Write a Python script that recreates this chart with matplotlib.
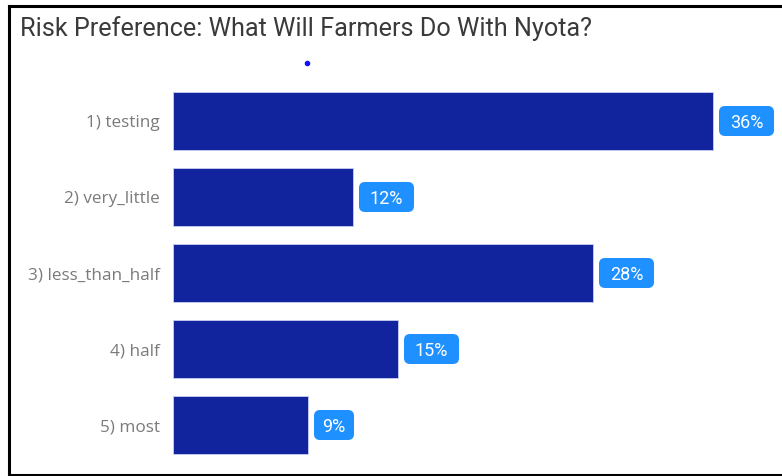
import matplotlib
matplotlib.use("Agg")
import matplotlib.pyplot as plt
from matplotlib.lines import Line2D
from matplotlib.patches import FancyBboxPatch
from matplotlib.transforms import ScaledTranslation

categories = ["1) testing", "2) very_little", "3) less_than_half", "4) half", "5) most"]
shares = [36, 12, 28, 15, 9]
labels = ["36%", "12%", "28%", "15%", "9%"]

W, H = 782, 476
fig = plt.figure(figsize=(W / 100, H / 100), dpi=100)

# axes placed in pixel terms: bars start at x=173, 15 px per percent
left, right = 173, 773
top, bottom = 83, 463
ax = fig.add_axes([left / W, 1 - bottom / H, (right - left) / W, (bottom - top) / H])

ypos = list(range(len(categories)))
ax.barh(ypos, shares, height=0.765, color="#12239E", edgecolor="#c9cdf0", linewidth=0.6)
ax.set_xlim(0, 40)
ax.set_ylim(len(categories) - 0.5, -0.5)

# data labels: rounded blue box a few pixels right of each bar end
for y, v, lab in zip(ypos, shares, labels):
    tr = fig.dpi_scale_trans + ScaledTranslation(v, y, ax.transData)
    bw = 0.10 + 0.15 * len(lab)  # box width in inches
    box = FancyBboxPatch((0.06, -0.15), bw, 0.30,
                         boxstyle="round,pad=0,rounding_size=0.06",
                         fc="#1E90FF", ec="none", transform=tr, clip_on=False)
    ax.add_patch(box)
    ax.text(0.06 + bw / 2, -0.07, lab, transform=tr, ha="center", va="baseline",
            color="white", fontsize=13, family="Roboto")

ax.set_yticks(ypos)
ax.set_yticklabels(categories, family="Open Sans", fontsize=12.3, color="#7a7a7a")
ax.tick_params(axis="y", length=0, pad=9.5)
ax.set_xticks([])
for s in ax.spines.values():
    s.set_visible(False)

# title
fig.text(20 / W, 1 - 36 / H, "Risk Preference: What Will Farmers Do With Nyota?",
         family="Roboto", fontsize=18.2, color="#3a3a3a", va="baseline", ha="left")

# small blue marker under the title
fig.add_artist(Line2D([307 / W], [1 - 63 / H], marker="o", markersize=3,
                      color="#1010ff", transform=fig.transFigure))

# frame around the visual (left, top, bottom)
fig.add_artist(Line2D([9 / W, 9 / W], [1 - 6 / H, 1 - 474.5 / H], color="black", lw=2.2,
                      transform=fig.transFigure))
fig.add_artist(Line2D([9 / W, 1], [1 - 6 / H, 1 - 6 / H], color="black", lw=2.2,
                      transform=fig.transFigure))
fig.add_artist(Line2D([9 / W, 1], [1 - 474.5 / H, 1 - 474.5 / H], color="black", lw=2.2,
                      transform=fig.transFigure))

fig.savefig("out.png", dpi=100)
